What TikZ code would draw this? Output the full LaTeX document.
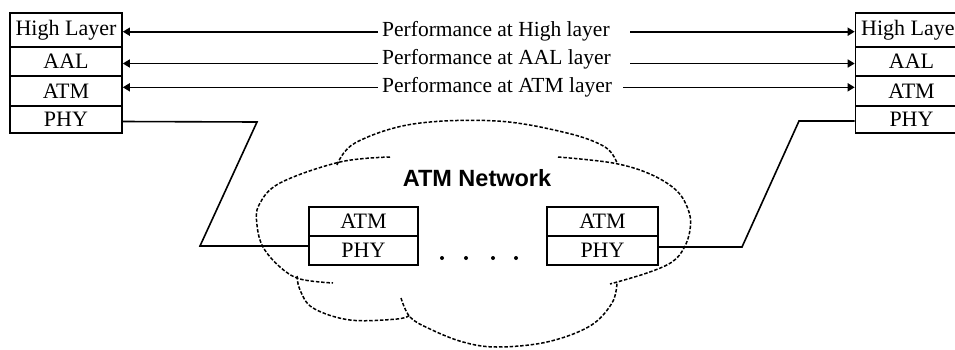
\documentclass[tikz,border=0pt]{standalone}
\usepackage{fontspec}
\setmainfont{Liberation Serif}
\newfontfamily\netfont{Liberation Sans}
\usetikzlibrary{arrows.meta}
\begin{document}
\begin{tikzpicture}[x=1pt,y=-1pt,
  cell/.style={draw,line width=1.6pt,inner sep=0pt,font=\fontsize{22}{24}\selectfont},
  lcell/.style={cell,minimum width=112pt},
  mcell/.style={cell,minimum width=110pt,minimum height=29pt},
  conn/.style={line width=1.6pt},
  perf/.style={line width=1.6pt,{Triangle[length=7pt,width=8pt]}-{Triangle[length=7pt,width=8pt]}},
  plbl/.style={fill=white,anchor=west,inner ysep=1pt,inner xsep=4pt,font=\fontsize{21.5}{24}\selectfont},
  cloud/.style={line width=1.5pt,dash pattern=on 3.5pt off 1.8pt,line cap=butt}]
\useasboundingbox (0,0) rectangle (955,349);
\clip (0,0) rectangle (955,349);
\fill[white] (0,0) rectangle (955,349);

% left stack
\node[lcell,minimum height=34pt] (LH) at (66,30) {High Layer};
\node[lcell,minimum height=29pt] (LA) at (66,61.5) {AAL};
\node[lcell,minimum height=30pt] (LT) at (66,91) {ATM};
\node[lcell,minimum height=27pt] (LP) at (66,119.5) {PHY};
% right stack
\node[lcell,minimum height=34pt] (RH) at (911.5,30) {High Layer};
\node[lcell,minimum height=29pt] (RA) at (911.5,61.5) {AAL};
\node[lcell,minimum height=30pt] (RT) at (911.5,91) {ATM};
\node[lcell,minimum height=27pt] (RP) at (911.5,119.5) {PHY};

% performance arrows
\draw[perf] ([yshift=-1.7pt]LH.east) -- ([yshift=-1.7pt]RH.west);
\draw[perf] ([yshift=-2pt]LA.east) -- ([yshift=-2pt]RA.west);
\draw[perf] ([yshift=3.7pt]LT.east) -- ([yshift=3.7pt]RT.west);
\node[plbl] (P1) at (378,31.7) {\makebox[244pt][l]{Performance at High layer}};
\node[plbl] (P2) at (378,59.3) {\makebox[244pt][l]{Performance at AAL layer}};
\node[plbl] (P3) at (378,87.3) {\makebox[237pt][l]{Performance at ATM layer}};

% cloud
\draw[cloud] plot[smooth,tension=0.6] coordinates {(337,165) (355,143) (413,124) (497,121) (567,133) (605,147) (617,163)};
\draw[cloud] plot[smooth,tension=0.6] coordinates {(390,157) (340,162) (280,183) (259,205) (257,225) (263,247) (280,267) (300,279) (333,283)};
\draw[cloud] plot[smooth,tension=0.6] coordinates {(297,276) (300,290) (313,308) (350,320) (397,319) (410,315)};
\draw[cloud] plot[smooth,tension=0.6] coordinates {(401,298) (410,317) (430,329) (463,342) (497,347) (547,342) (590,326) (612,303) (617,283)};
\draw[cloud] plot[smooth,tension=0.6] coordinates {(558,157) (613,163) (650,174) (677,191) (689,212) (690,230) (684,248) (672,262) (647,273) (610,284)};

\node[font=\netfont\bfseries\fontsize{23.5}{26}\selectfont,inner sep=0pt] (NET) at (477,178.5) {ATM Network};

% middle boxes
\node[mcell,minimum width=109pt] (MLA) at (363.5,221.5) {ATM};
\node[mcell,minimum width=109pt] (MLP) at (363.5,250.5) {PHY};
\node[mcell,minimum width=111pt] (MRA) at (602.5,221.5) {ATM};
\node[mcell,minimum width=111pt] (MRP) at (602.5,250.5) {PHY};

\foreach \x in {442,466,493,516} \fill (\x,258) circle (2pt);

% physical links
\coordinate (A1) at (257,122);
\coordinate (A2) at (200,246);
\coordinate (B1) at (742,247);
\coordinate (B2) at (799,121);
\draw[conn] ([yshift=-2pt]LP.east) -- (A1) -- (A2) -- ([yshift=4.5pt]MLP.west);
\draw[conn] ([yshift=3.5pt]MRP.east) -- (B1) -- (B2) -- ([yshift=-1.5pt]RP.west);
\end{tikzpicture}
\end{document}
